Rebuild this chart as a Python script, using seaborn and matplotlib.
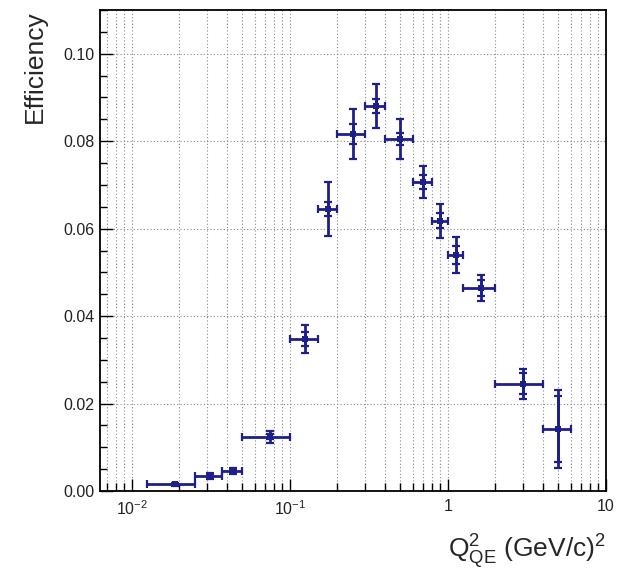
import numpy as np
import pandas as pd
import matplotlib
matplotlib.use("Agg")
import matplotlib.pyplot as plt
from matplotlib.ticker import FixedLocator, FixedFormatter, MultipleLocator, NullFormatter
import seaborn as sns

# Q^2_QE binning (GeV/c)^2
bin_low = [0.0125, 0.025, 0.0375, 0.05, 0.1, 0.15, 0.2, 0.3, 0.4, 0.6, 0.8, 1.0, 1.25, 2.0, 4.0]
bin_high = [0.025, 0.0375, 0.05, 0.1, 0.15, 0.2, 0.3, 0.4, 0.6, 0.8, 1.0, 1.25, 2.0, 4.0, 6.0]

# selection efficiency and its uncertainties
efficiency = [0.0015, 0.0035, 0.0046, 0.0124, 0.0348, 0.0645, 0.0817, 0.0881,
              0.0805, 0.0707, 0.0618, 0.0540, 0.0465, 0.0245, 0.0142]
total_err = [0.0004, 0.0007, 0.0007, 0.0013, 0.0032, 0.0061, 0.0057, 0.0050,
             0.0045, 0.0037, 0.0039, 0.0041, 0.0030, 0.0034, 0.0090]
stat_err = [0.0002, 0.0003, 0.0003, 0.0006, 0.0016, 0.0017, 0.0023, 0.0016,
            0.0013, 0.0016, 0.0017, 0.0020, 0.0018, 0.0024, 0.0075]

x_tick_values = [0.01, 0.1, 1, 10]
x_tick_labels = [r"$10^{-2}$", r"$10^{-1}$", "1", "10"]
y_tick_values = [0.00, 0.02, 0.04, 0.06, 0.08, 0.10]
y_tick_labels = ["0.00", "0.02", "0.04", "0.06", "0.08", "0.10"]

df = pd.DataFrame({"low": bin_low, "high": bin_high, "eff": efficiency,
                   "tot": total_err, "stat": stat_err})
df["q2"] = 0.5 * (df["low"] + df["high"])

sns.set_theme(style="ticks")
plt.rcParams["font.family"] = ["Liberation Sans", "DejaVu Sans"]
plt.rcParams["mathtext.fontset"] = "custom"
plt.rcParams["mathtext.rm"] = "Liberation Sans"
plt.rcParams["mathtext.it"] = "Liberation Sans"
plt.rcParams["mathtext.bf"] = "Liberation Sans:bold"

fig = plt.figure(figsize=(6.29, 5.71), dpi=100)
ax = fig.add_axes([0.159, 0.140, 0.804, 0.8425])
ax.set_xscale("log")
ax.set_xlim(0.0063, 10)
ax.set_ylim(0.0, 0.11)

color = "#1f1f8c"

# grid: every log tick on x, major ticks on y
grid_kw = dict(color="#8a8a8a", linestyle=(0, (1, 2)), linewidth=0.8, zorder=0)
xmin, xmax = ax.get_xlim()
for dec in [1e-3, 1e-2, 1e-1, 1, 10]:
    for m in range(1, 10):
        v = m * dec
        if xmin < v < xmax:
            ax.axvline(v, **grid_kw)
for v in y_tick_values[1:]:
    ax.axhline(v, **grid_kw)

# total uncertainty with bin widths
ax.errorbar(df["q2"], df["eff"],
            xerr=[df["q2"] - df["low"], df["high"] - df["q2"]],
            yerr=df["tot"], fmt="none", ecolor=color, elinewidth=2,
            capsize=2.6, capthick=1.6, zorder=3)
# statistical uncertainty marks
ax.errorbar(df["q2"], df["eff"], yerr=df["stat"], fmt="none", ecolor=color,
            elinewidth=2, capsize=2.6, capthick=1.6, zorder=3)
sns.scatterplot(data=df, x="q2", y="eff", ax=ax, color=color, marker="s",
                s=14, edgecolor=color, linewidth=0, zorder=4, legend=False)

ax.xaxis.set_major_locator(FixedLocator(x_tick_values))
ax.xaxis.set_major_formatter(FixedFormatter(x_tick_labels))
ax.xaxis.set_minor_locator(FixedLocator(
    [m * d for d in [1e-3, 1e-2, 1e-1, 1] for m in range(2, 10)]))
ax.xaxis.set_minor_formatter(NullFormatter())
ax.yaxis.set_major_locator(FixedLocator(y_tick_values))
ax.yaxis.set_major_formatter(FixedFormatter(y_tick_labels))
ax.yaxis.set_minor_locator(MultipleLocator(0.005))

ax.tick_params(which="both", direction="in", top=False, right=False,
               labelsize=11.5, colors="black", labelcolor="#222222", width=1.0)
ax.tick_params(which="major", length=9, pad=4)
ax.tick_params(which="minor", length=5)
ax.tick_params(axis="x", which="major", length=9, pad=6)
ax.tick_params(axis="x", which="minor", length=6)

for sp in ax.spines.values():
    sp.set_linewidth(1.3)
    sp.set_color("black")

ax.set_xlabel(r"$\mathregular{Q^{2}_{QE}}$ (GeV/c)$\mathregular{^{2}}$", fontsize=19)
ax.xaxis.set_label_coords(1.0, -0.085)
ax.xaxis.label.set_horizontalalignment("right")
ax.set_ylabel("Efficiency", fontsize=19)
ax.yaxis.set_label_coords(-0.105, 1.0)
ax.yaxis.label.set_horizontalalignment("right")

fig.savefig("out.png", dpi=100, facecolor="white")
